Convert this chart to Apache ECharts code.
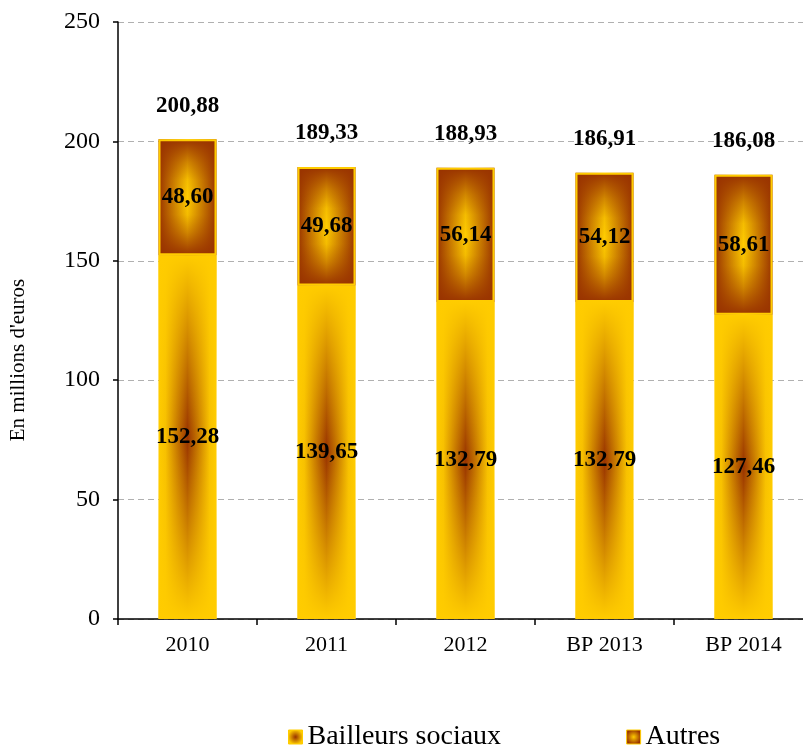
<!DOCTYPE html>
<html>
<head>
<meta charset="utf-8">
<script src="https://cdn.jsdelivr.net/npm/echarts@6/dist/echarts.min.js"></script>
<style>
  html, body { margin: 0; padding: 0; background: #fff; }
  #chart-container { width: 803px; height: 746px; }
</style>
</head>
<body>
<div id="chart-container"></div>
<script>
// data
var categories = ['2010', '2011', '2012', 'BP 2013', 'BP 2014'];
var bailleurs = [152.28, 139.65, 132.79, 132.79, 127.46];
var autres = [48.60, 49.68, 56.14, 54.12, 58.61];
var totals = [200.88, 189.33, 188.93, 186.91, 186.08];
var yTicks = [0, 50, 100, 150, 200, 250];

var dom = document.getElementById('chart-container');
var myChart = echarts.init(dom, null, { renderer: 'canvas' });

var FONT = 'Liberation Serif';
var YEL = '#FFCC00';
var BRN = '#993300';

function fr(v) {
  return v.toFixed(2).replace('.', ',');
}

// horizontal gradients (the vertical part is faked by an overlay bar on top)
var gBailleurs = new echarts.graphic.LinearGradient(0, 0, 1, 0, [
  { offset: 0, color: YEL },
  { offset: 0.12, color: '#F7C000' },
  { offset: 0.5, color: BRN },
  { offset: 0.88, color: '#F7C000' },
  { offset: 1, color: YEL }
]);
var gAutres = new echarts.graphic.LinearGradient(0, 0, 1, 0, [
  { offset: 0, color: BRN },
  { offset: 0.5, color: YEL },
  { offset: 1, color: BRN }
]);
var vBailleurs = new echarts.graphic.LinearGradient(0, 0, 0, 1, [
  { offset: 0, color: 'rgba(255,204,0,1)' },
  { offset: 0.5, color: 'rgba(255,204,0,0)' },
  { offset: 1, color: 'rgba(255,204,0,1)' }
]);
var vAutres = new echarts.graphic.LinearGradient(0, 0, 0, 1, [
  { offset: 0, color: 'rgba(153,51,0,1)' },
  { offset: 0.2, color: 'rgba(153,51,0,0.45)' },
  { offset: 0.35, color: 'rgba(153,51,0,0.1)' },
  { offset: 0.5, color: 'rgba(153,51,0,0)' },
  { offset: 0.65, color: 'rgba(153,51,0,0.1)' },
  { offset: 0.8, color: 'rgba(153,51,0,0.45)' },
  { offset: 1, color: 'rgba(153,51,0,1)' }
]);
// legend swatches look like small framed squares
var legBailleurs = new echarts.graphic.RadialGradient(0.5, 0.5, 0.5, [
  { offset: 0, color: BRN },
  { offset: 1, color: YEL }
]);
var legAutres = new echarts.graphic.RadialGradient(0.5, 0.5, 0.5, [
  { offset: 0, color: YEL },
  { offset: 1, color: BRN }
]);

var valueLabel = {
  show: true,
  position: 'inside',
  fontFamily: FONT,
  fontSize: 23,
  fontWeight: 'bold',
  color: '#000',
  formatter: function (p) { return fr(p.value); }
};

var option = {
  animation: false,
  backgroundColor: '#fff',
  textStyle: { fontFamily: FONT },
  grid: {
    left: 118,
    right: -10,
    top: 22,
    bottom: 127,
    containLabel: false,
    outerBoundsMode: 'none'
  },
  // y axis title sits a bit below the middle of the axis in the original
  graphic: [
    {
      type: 'text',
      x: 18,
      y: 360,
      rotation: Math.PI / 2,
      style: {
        text: "En millions d'euros",
        fontFamily: FONT,
        fontSize: 21,
        fill: '#000',
        align: 'center',
        verticalAlign: 'middle'
      }
    }
  ],
  legend: {
    data: [
      { name: 'Bailleurs sociaux', itemStyle: { color: legBailleurs, borderColor: YEL, borderWidth: 1 } },
      { name: 'Autres', itemStyle: { color: legAutres, borderColor: YEL, borderWidth: 1 } }
    ],
    left: 283,
    top: 718,
    icon: 'rect',
    itemWidth: 14,
    itemHeight: 14,
    itemGap: 125,
    textStyle: { fontFamily: FONT, fontSize: 28, color: '#000' }
  },
  xAxis: {
    type: 'category',
    data: categories,
    axisLine: { lineStyle: { color: '#000', width: 1.5 } },
    axisTick: { show: true, alignWithLabel: false, length: 6, lineStyle: { color: '#000', width: 1.5 } },
    axisLabel: { fontFamily: FONT, fontSize: 22, color: '#000', margin: 15 }
  },
  yAxis: {
    type: 'value',
    min: yTicks[0],
    max: yTicks[yTicks.length - 1],
    interval: 50,
    axisLine: { show: true, lineStyle: { color: '#000', width: 1.5 } },
    axisTick: { show: true, length: 5, lineStyle: { color: '#000', width: 1.5 } },
    axisLabel: { fontFamily: FONT, fontSize: 24, color: '#000', margin: 18 },
    splitLine: { show: true, lineStyle: { color: '#B0B0B0', type: [6, 4], width: 1.2 } }
  },
  series: [
    {
      name: 'Bailleurs sociaux',
      type: 'bar',
      stack: 'main',
      z: 1,
      barWidth: 58,
      barGap: '-100%',
      data: bailleurs,
      itemStyle: { color: gBailleurs }
    },
    {
      name: 'Autres',
      type: 'bar',
      stack: 'main',
      z: 1,
      barWidth: 58,
      barGap: '-100%',
      data: autres,
      itemStyle: { color: gAutres },
      label: {
        show: true,
        position: 'top',
        distance: 22,
        fontFamily: FONT,
        fontSize: 23,
        fontWeight: 'bold',
        color: '#000',
        formatter: function (p) { return fr(totals[p.dataIndex]); }
      }
    },
    {
      name: 'Bailleurs overlay',
      type: 'bar',
      stack: 'over',
      z: 2,
      silent: true,
      barWidth: 58,
      barGap: '-100%',
      data: bailleurs,
      itemStyle: { color: vBailleurs },
      label: valueLabel
    },
    {
      name: 'Autres overlay',
      type: 'bar',
      stack: 'over',
      z: 2,
      silent: true,
      barWidth: 58,
      barGap: '-100%',
      data: autres,
      itemStyle: { color: vAutres, borderColor: YEL, borderWidth: 2 },
      label: valueLabel
    }
  ]
};

myChart.setOption(option);
window.addEventListener('resize', myChart.resize);
</script>
</body>
</html>
